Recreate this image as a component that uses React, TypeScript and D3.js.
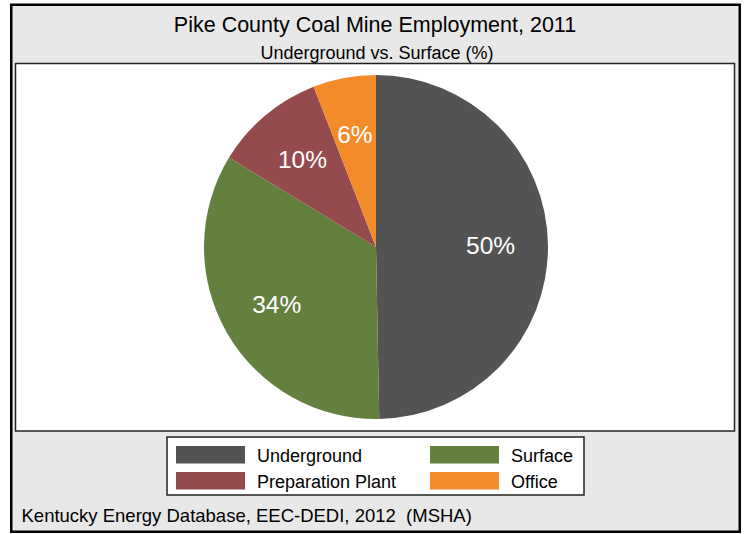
import React from "react";
import * as d3 from "d3";

const categories = ["Underground", "Surface", "Preparation Plant", "Office"];
const values = [49.7, 34.0, 10.4, 5.9];
const colors = ["#535353", "#64803f", "#954a4e", "#f38b2a"];
const title = "Pike County Coal Mine Employment, 2011";
const subtitle = "Underground vs. Surface (%)";
const footnote = "Kentucky Energy Database, EEC-DEDI, 2012\u00A0\u00A0(MSHA)";

const W = 746;
const H = 534;
const FONT = "'Liberation Sans', Arial, Helvetica, sans-serif";

export default function App() {
  const cx = 376;
  const cy = 247;
  const R = 172;
  const data = categories.map((c, i) => ({ c, v: values[i], col: colors[i] }));
  const pie = d3
    .pie<{ c: string; v: number; col: string }>()
    .value((d) => d.v)
    .sort(null)
    .startAngle(0)
    .endAngle(2 * Math.PI);
  const arcs = pie(data);
  const arc = d3.arc<d3.PieArcDatum<any>>().innerRadius(0).outerRadius(R);
  const labelArc = d3
    .arc<d3.PieArcDatum<any>>()
    .innerRadius(R * 0.666)
    .outerRadius(R * 0.666);

  const legendCols = [176, 430];
  const legendRows = [446, 472];

  return (
    <svg
      width={W}
      height={H}
      style={{ position: "absolute", left: 0, top: 0, background: "#ffffff" }}
      fontFamily={FONT}
    >
      <rect x={11.25} y={4.75} width={728.5} height={527} fill="#e8e8e8" stroke="#000" strokeWidth={2.5} />
      <text x={375} y={32.3} textAnchor="middle" fontSize={21.5} fill="#000">
        {title}
      </text>
      <text x={377} y={59} textAnchor="middle" fontSize={18} fill="#000">
        {subtitle}
      </text>
      <rect x={15.5} y={63.5} width={719} height={367.5} fill="#ffffff" stroke="#222" strokeWidth={1.5} />
      <g transform={`translate(${cx},${cy})`}>
        {arcs.map((a, i) => (
          <path key={i} d={arc(a) as string} fill={a.data.col} />
        ))}
        {arcs.map((a, i) => {
          const [lx, ly] = labelArc.centroid(a);
          return (
            <text
              key={"l" + i}
              x={lx}
              y={ly}
              textAnchor="middle"
              dominantBaseline="central"
              fontSize={24.5}
              fill="#ffffff"
            >
              {Math.round(a.data.v) + "%"}
            </text>
          );
        })}
      </g>
      <rect x={167} y={437} width={417} height={58} fill="#ffffff" stroke="#222" strokeWidth={1.5} />
      {categories.map((c, i) => {
        const col = i % 2;
        const row = Math.floor(i / 2);
        const x = legendCols[col];
        const y = legendRows[row];
        return (
          <g key={"lg" + i}>
            <rect x={x} y={y} width={69} height={17.5} fill={colors[i]} />
            <text x={x + 81} y={y + 15.8} fontSize={18} fill="#000">
              {c}
            </text>
          </g>
        );
      })}
      <text x={21.5} y={521.5} fontSize={18.5} fill="#000" style={{ whiteSpace: "pre" }}>
        {footnote}
      </text>
    </svg>
  );
}
